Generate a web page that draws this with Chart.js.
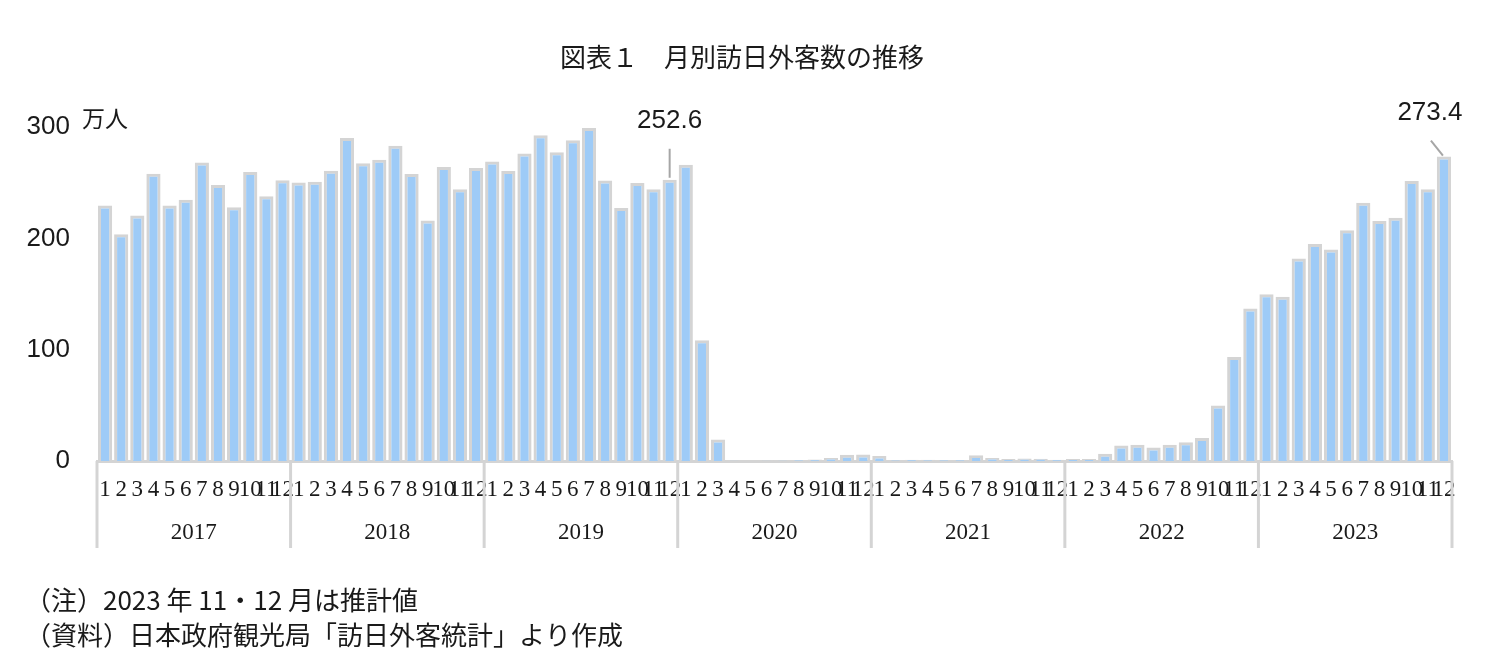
<!DOCTYPE html>
<html lang="ja">
<head>
<meta charset="utf-8">
<title>月別訪日外客数の推移</title>
<script src="https://cdn.jsdelivr.net/npm/chart.js@4/dist/chart.umd.min.js"></script>
<style>
    html, body { margin: 0; padding: 0; background: #fff; }
    #wrap { width: 1504px; height: 670px; }
</style>
</head>
<body>
<div id="wrap"><canvas id="chart" width="1504" height="670"></canvas></div>
<script>
// 年・月ラベル
const years = ['2017', '2018', '2019', '2020', '2021', '2022', '2023'];
const months = ['1', '2', '3', '4', '5', '6', '7', '8', '9', '10', '11', '12'];

// 訪日外客数（万人）
const v2017 = [229.6, 203.6, 220.6, 257.9, 229.5, 234.6, 268.2, 247.8, 228.0, 259.5, 237.8, 252.1];
const v2018 = [250.2, 250.9, 260.8, 290.1, 267.5, 270.5, 283.2, 257.8, 216.0, 264.1, 244.1, 263.2];
const v2019 = [268.9, 260.4, 276.1, 292.7, 277.3, 288.0, 299.1, 252.0, 227.3, 249.7, 244.1, 252.6];
const v2020 = [266.1, 108.5, 19.4, 0.3, 0.2, 0.3, 0.4, 0.9, 1.4, 2.8, 5.7, 5.9];
const v2021 = [4.6, 0.7, 1.2, 1.1, 1.0, 1.0, 5.2, 2.6, 1.8, 2.2, 2.1, 1.2];
const v2022 = [1.7, 1.7, 6.6, 13.9, 14.7, 12.1, 14.5, 16.9, 20.7, 49.9, 93.4, 137.0];
const v2023 = [149.7, 147.6, 181.8, 194.9, 189.9, 207.3, 232.0, 215.6, 218.4, 251.6, 244.1, 273.4];

// 吹き出し（データ番号と表示文字）
const calloutIndex = [35, 83];
const calloutText = ['252.6', '273.4'];

const yTicks = [0, 100, 200, 300];

const values = [].concat(v2017, v2018, v2019, v2020, v2021, v2022, v2023);
const labels = [];
years.forEach(y => months.forEach(m => labels.push(y + '-' + m)));

const GRAY = '#d4d4d4';
const TEXT = '#1a1a1a';
const CJK = "'Noto Sans CJK JP', 'Noto Sans', sans-serif";

// 年ラベル・区切り線・注記などを描くプラグイン
const decorations = {
    id: 'decorations',
    afterDraw(chart) {
        const ctx = chart.ctx;
        const x = chart.scales.x;
        const y = chart.scales.y;
        const area = chart.chartArea;
        const step = x.getPixelForValue(1) - x.getPixelForValue(0);

        ctx.save();

        // 年の区切り線
        ctx.strokeStyle = GRAY;
        ctx.lineWidth = 3;
        for (let i = 0; i <= years.length; i++) {
            const px = x.getPixelForValue(i * 12) - step / 2;
            ctx.beginPath();
            ctx.moveTo(px, area.bottom);
            ctx.lineTo(px, 548);
            ctx.stroke();
        }

        // 年ラベル
        ctx.fillStyle = TEXT;
        ctx.font = "23px 'Liberation Serif', serif";
        ctx.textAlign = 'center';
        ctx.textBaseline = 'middle';
        years.forEach((yr, i) => {
            const a = x.getPixelForValue(i * 12) - step / 2;
            const b = x.getPixelForValue(i * 12 + 11) + step / 2;
            ctx.fillText(yr, (a + b) / 2, 533);
        });

        // 吹き出し
        ctx.font = "26px 'Liberation Sans', Arial, sans-serif";
        ctx.strokeStyle = '#a6a6a6';
        ctx.lineWidth = 2;
        calloutIndex.forEach((idx, k) => {
            const px = x.getPixelForValue(idx);
            const py = y.getPixelForValue(values[idx]);
            ctx.beginPath();
            if (k === 0) {
                ctx.moveTo(px, py - 31);
                ctx.lineTo(px, py - 2);
                ctx.stroke();
                ctx.fillText(calloutText[k], px, py - 59);
            } else {
                ctx.moveTo(px - 13, py - 16);
                ctx.lineTo(px - 1, py - 1);
                ctx.stroke();
                ctx.fillText(calloutText[k], px - 14, py - 44);
            }
        });

        // 単位
        ctx.font = '23px ' + CJK;
        ctx.textAlign = 'left';
        ctx.fillText('万人', 82, 118);

        // タイトル
        ctx.font = '26px ' + CJK;
        ctx.textAlign = 'center';
        ctx.fillText('図表１　月別訪日外客数の推移', 742, 57);

        // 注記
        ctx.font = '26px ' + CJK;
        ctx.textAlign = 'left';
        ctx.fillText('（注）2023 年 11・12 月は推計値', 25, 600);
        ctx.fillText('（資料）日本政府観光局「訪日外客統計」より作成', 25, 635);

        ctx.restore();
    }
};

new Chart(document.getElementById('chart'), {
    type: 'bar',
    data: {
        labels: labels,
        datasets: [{
            data: values,
            backgroundColor: '#9ecbf7',
            borderColor: GRAY,
            borderWidth: 3,
            barPercentage: 0.88,
            categoryPercentage: 1.0
        }]
    },
    options: {
        responsive: false,
        animation: false,
        layout: { padding: { top: 127, right: 52, left: 0, bottom: 0 } },
        plugins: {
            legend: { display: false },
            tooltip: { enabled: false }
        },
        scales: {
            x: {
                grid: { display: false, drawTicks: false },
                border: { display: true, color: GRAY, width: 3 },
                ticks: {
                    autoSkip: false,
                    maxRotation: 0,
                    minRotation: 0,
                    padding: 15,
                    color: TEXT,
                    font: { family: "'Liberation Serif', serif", size: 23 },
                    callback: function(value, index) {
                        return months[index % 12];
                    }
                },
                afterFit: function(scale) { scale.height = 209; }
            },
            y: {
                min: 0,
                max: 300,
                grid: { display: false, drawTicks: false },
                border: { display: false },
                afterBuildTicks: function(scale) {
                    scale.ticks = yTicks.map(v => ({ value: v }));
                },
                ticks: {
                    padding: 27,
                    color: TEXT,
                    font: { family: "'Liberation Sans', Arial, sans-serif", size: 26 }
                },
                afterFit: function(scale) { scale.width = 97; }
            }
        }
    },
    plugins: [decorations]
});
</script>
</body>
</html>
